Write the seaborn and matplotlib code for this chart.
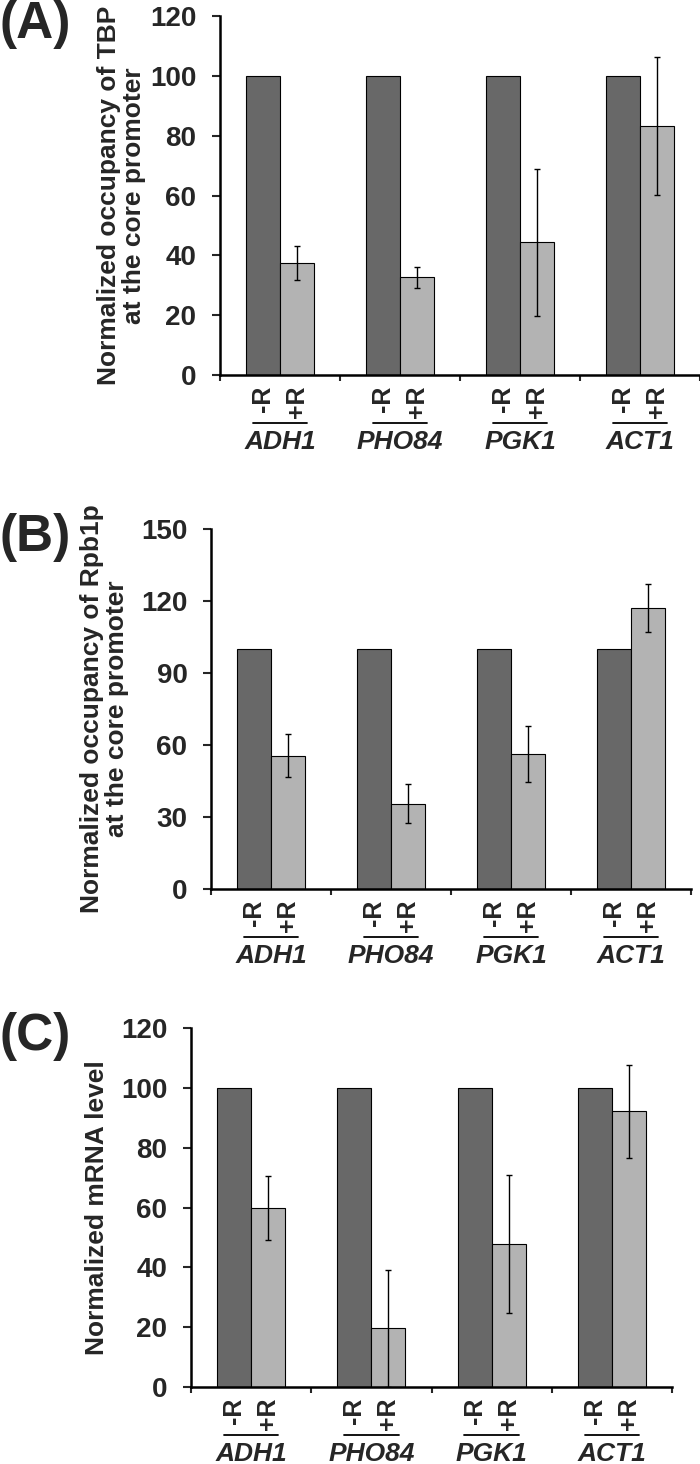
import pandas as pd
import matplotlib.pyplot as plt
import matplotlib.transforms as mtransforms
import seaborn as sns

sns.set_theme(style="ticks")
plt.rcParams['font.family'] = ['Liberation Sans', 'DejaVu Sans']
plt.rcParams['font.weight'] = 'bold'

# ---- data ----
genes = ["ADH1", "PHO84", "PGK1", "ACT1"]
conditions = ["-R", "+R"]

tbp_minus = [100, 100, 100, 100]
tbp_plus = [37.5, 32.6, 44.4, 83.3]
tbp_err = [5.7, 3.5, 24.6, 23.0]

rpb_minus = [100, 100, 100, 100]
rpb_plus = [55.5, 35.6, 56.3, 117.0]
rpb_err = [9.0, 8.0, 11.6, 10.0]

mrna_minus = [100, 100, 100, 100]
mrna_plus = [59.9, 19.6, 47.9, 92.2]
mrna_err = [10.6, 19.5, 23.0, 15.5]

colors = ["#686868", "#b3b3b3"]
tick_font = ['Liberation Sans Narrow', 'Liberation Sans', 'DejaVu Sans']

W, H = 700, 1464
fig = plt.figure(figsize=(W / 100, H / 100), dpi=100)


def px_axes(left, right, top, bottom):
    return fig.add_axes([left / W, (H - bottom) / H, (right - left) / W, (bottom - top) / H])


def draw_panel(ax, minus, plus, err, ymax, ystep, ylabel, letter, label_x):
    df = pd.DataFrame({
        "gene": genes * 2,
        "cond": [conditions[0]] * len(genes) + [conditions[1]] * len(genes),
        "value": minus + plus,
    })
    sns.barplot(data=df, x="gene", y="value", hue="cond", order=genes,
                hue_order=conditions, palette=colors, width=0.567,
                edgecolor="black", linewidth=0.8, errorbar=None,
                legend=False, saturation=1, ax=ax)

    # error bars on the +R bars only
    plus_bars = ax.containers[1]
    xs = [b.get_x() + b.get_width() / 2 for b in plus_bars]
    hs = [b.get_height() for b in plus_bars]
    ax.errorbar(xs, hs, yerr=err, fmt="none", ecolor="black",
                elinewidth=1.0, capsize=2.5, capthick=1.0, zorder=5)

    ax.set_xlim(-0.5, len(genes) - 0.5)
    ax.set_ylim(0, ymax)
    ax.set_yticks(range(0, ymax + 1, ystep))
    ax.set_xticks([i - 0.5 for i in range(len(genes) + 1)])
    ax.set_xticklabels([])
    ax.set_xlabel("")
    ax.set_ylabel(ylabel, fontsize=19, fontweight="bold", linespacing=1.05)
    ax.yaxis.set_label_coords(label_x, 0.5)
    ax.tick_params(axis="y", length=6, width=1.5, pad=11)
    ax.tick_params(axis="x", length=4, width=1.5)
    for lab in ax.get_yticklabels():
        lab.set_fontweight("bold")
        lab.set_fontsize(20)
        lab.set_family(tick_font)
    sns.despine(ax=ax)
    for side in ["left", "bottom"]:
        ax.spines[side].set_linewidth(1.8)
        ax.spines[side].set_color("black")

    base = ax.get_xaxis_transform()
    cond_tr = mtransforms.offset_copy(base, fig=fig, y=-11, units="dots")
    line_tr = mtransforms.offset_copy(base, fig=fig, y=-48, units="dots")
    gene_tr = mtransforms.offset_copy(base, fig=fig, y=-74, units="dots")
    for i, gene in enumerate(genes):
        b_minus = ax.containers[0][i]
        b_plus = ax.containers[1][i]
        for b, cond in [(b_minus, conditions[0]), (b_plus, conditions[1])]:
            ax.text(b.get_x() + b.get_width() / 2, 0, cond, transform=cond_tr,
                    rotation=90, ha="center", va="top", fontsize=18,
                    fontweight="bold")
        x0 = b_minus.get_x() + b_minus.get_width() * 0.2
        x1 = b_plus.get_x() + b_plus.get_width() * 0.8
        ax.plot([x0, x1], [0, 0], transform=line_tr, color="black",
                lw=1.3, clip_on=False)
        ax.text(i, 0, gene, transform=gene_tr, ha="center", va="baseline",
                fontsize=19, fontweight="bold", style="italic")

    bb = ax.get_position()
    fig.text(0.0, bb.y1 + 16 / H, letter, ha="left", va="top",
             fontsize=37, fontweight="bold")


ax_a = px_axes(220, 700, 16, 375)
draw_panel(ax_a, tbp_minus, tbp_plus, tbp_err, 120, 20,
           "Normalized occupancy of TBP\nat the core promoter", "(A)", -0.154)

ax_b = px_axes(211, 691, 529, 889)
draw_panel(ax_b, rpb_minus, rpb_plus, rpb_err, 150, 30,
           "Normalized occupancy of Rpb1p\nat the core promoter", "(B)", -0.17)

ax_c = px_axes(191, 672, 1028, 1387)
draw_panel(ax_c, mrna_minus, mrna_plus, mrna_err, 120, 20,
           "Normalized mRNA level", "(C)", -0.17)

fig.savefig("out.png", dpi=100)
